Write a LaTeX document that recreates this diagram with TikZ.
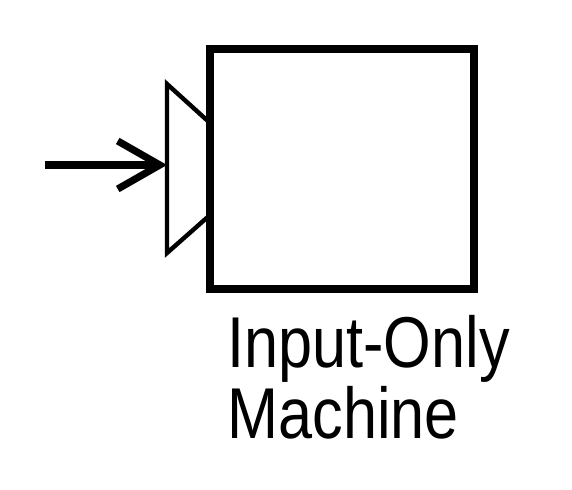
\documentclass[tikz,border=0pt]{standalone}
\usepackage{fontspec}
\newfontfamily\machinefont[FakeStretch=0.85]{Liberation Sans}
\usetikzlibrary{arrows.meta, calc}

\begin{document}
\begin{tikzpicture}[
	x=0.5pt, y=-0.5pt,
	machinebox/.style = {draw, rectangle, line width=4.4pt, minimum width=132pt, minimum height=120pt, inner sep=0pt, outer sep=0pt},
	portline/.style = {draw, line width=2.2pt, line join=miter},
	feedline/.style = {draw, line width=3.6pt, -{Straight Barb[length=21pt, width=24pt]}},
	labeltexts/.style = {font=\machinefont\fontsize{36pt}{35.5pt}\selectfont, align=left, inner sep=0pt}
]
	\useasboundingbox (0,0) rectangle (572,490);
	\node[machinebox] (machine) at (342,169) {};

	% input port
	\coordinate (porttop) at ([yshift=23pt]machine.west);
	\coordinate (portbottom) at ([yshift=-23pt]machine.west);
	\coordinate (portupper) at ($(porttop)+(-21.5pt,19.5pt)$);
	\coordinate (portlower) at ($(portbottom)+(-21.5pt,-19pt)$);
	\draw[portline] (porttop) -- (portupper) -- (portlower) -- (portbottom);

	% feed
	\coordinate (feed) at (45,165);
	\coordinate (portin) at ($(portupper)!(feed)!(portlower)$);
	\draw[feedline] (feed) -- (portin);

	\node[labeltexts, anchor=base west] (name) at (227,439) {Input-Only\\Machine};
\end{tikzpicture}
\end{document}
